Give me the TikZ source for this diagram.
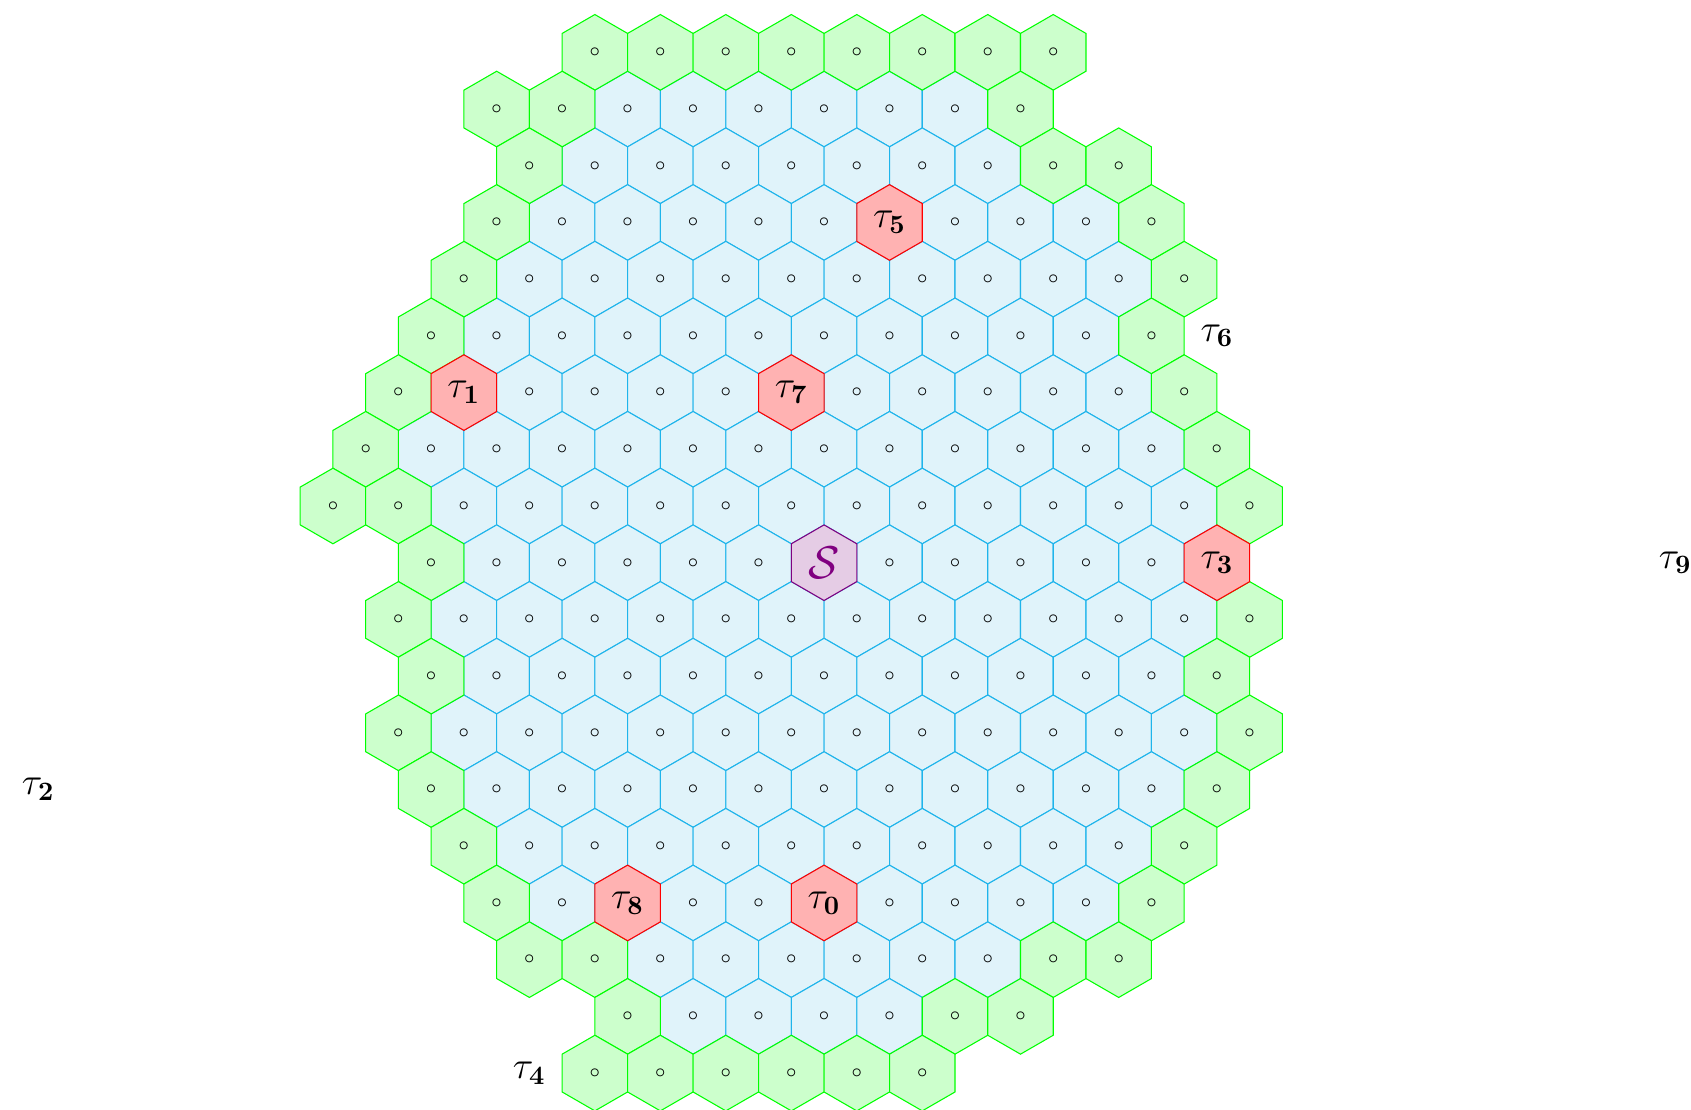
\documentclass[tikz,border=0pt]{standalone}
\usepackage{amsmath,amssymb}
\usepackage{tikz}
\usetikzlibrary{shapes.geometric}
\definecolor{skyfill}{RGB}{224,243,250}
\definecolor{skyline}{RGB}{30,180,235}

\begin{document}
\begin{tikzpicture}[x=0.4330127cm,y=0.75cm]
\tikzset{
  hexcell/.style={regular polygon,regular polygon sides=6,shape border rotate=30,minimum size=1cm,inner sep=0pt,outer sep=0pt,font=\scriptsize},
  inner/.style={hexcell,fill=skyfill,draw=skyline},
  rim/.style={hexcell,fill=green!20,draw=green},
  goal/.style={hexcell,fill=red!30,draw=red,font=\Large},
  start/.style={hexcell,fill=violet!20,draw=violet,text=violet,font=\LARGE},
  tag/.style={font=\Large,inner sep=0pt}
}
\useasboundingbox (-25.17,0.923) rectangle (26.48,-18.637);
\foreach \r/\a/\n in {1/-6/5,2/-7/6,3/-8/4,3/4/2,4/-9/9,5/-10/9,6/-9/3,6/1/4,7/-12/11,8/-11/11,9/-10/4,9/2/4,10/-11/11,11/-10/10,12/-11/11,13/-10/10,14/-9/9,15/-8/0,15/-4/1,15/2/3,16/-5/5,17/-4/3}
  \foreach \k in {0,...,\n}{
    \pgfmathtruncatemacro\d{\a+2*\k}
    \node[inner] (c-\r-\d) at (\d,-\r) {$\circ$};
  }
\foreach \r/\a/\n in {0/-7/7,1/-10/1,1/6/0,2/-9/0,2/7/1,3/-10/0,3/10/0,4/-11/0,4/11/0,5/-12/0,5/10/0,6/-13/0,6/11/0,7/-14/0,7/12/0,8/-15/1,8/13/0,9/-12/0,10/-13/0,10/13/0,11/-12/0,11/12/0,12/-13/0,12/13/0,13/-12/0,13/12/0,14/-11/0,14/11/0,15/-10/0,15/10/0,16/-9/1,16/7/1,17/-6/0,17/4/1,18/-7/5}
  \foreach \k in {0,...,\n}{
    \pgfmathtruncatemacro\d{\a+2*\k}
    \node[rim] (c-\r-\d) at (\d,-\r) {$\circ$};
  }
\node[goal] (t0) at (0,-15) {$\tau_{\mathbf{0}}$};
\node[goal] (t1) at (-11,-6) {$\tau_{\mathbf{1}}$};
\node[goal] (t3) at (12,-9) {$\tau_{\mathbf{3}}$};
\node[goal] (t5) at (2,-3) {$\tau_{\mathbf{5}}$};
\node[goal] (t7) at (-1,-6) {$\tau_{\mathbf{7}}$};
\node[goal] (t8) at (-6,-15) {$\tau_{\mathbf{8}}$};
\node[start] (s) at (0,-9) {$\mathcal{S}$};
\node[tag] (t2) at (-24,-13) {$\tau_{\mathbf{2}}$};
\node[tag] (t4) at (-9,-18) {$\tau_{\mathbf{4}}$};
\node[tag] (t6) at (12,-5) {$\tau_{\mathbf{6}}$};
\node[tag] (t9) at (26,-9) {$\tau_{\mathbf{9}}$};
\end{tikzpicture}
\end{document}
